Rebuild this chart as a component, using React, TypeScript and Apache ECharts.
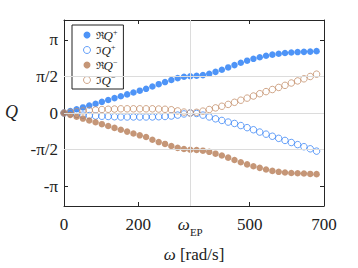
import React, { useEffect, useRef } from "react";
import * as echarts from "echarts";

const omega = [0, 17, 34, 51, 68, 85, 102, 119, 136, 153, 170, 187, 204, 221, 238, 255, 272, 289, 306, 323, 340, 357, 374, 391, 408, 425, 442, 459, 476, 493, 510, 527, 544, 561, 578, 595, 612, 629, 646, 663, 680];

const reQplus = [0, 0.08, 0.16, 0.24, 0.32, 0.4, 0.48, 0.56, 0.64, 0.72, 0.8, 0.88, 0.96, 1.04, 1.14, 1.24, 1.33, 1.42, 1.5, 1.56, 1.58, 1.6, 1.63, 1.69, 1.77, 1.86, 1.96, 2.06, 2.16, 2.25, 2.33, 2.4, 2.46, 2.51, 2.55, 2.58, 2.6, 2.62, 2.63, 2.64, 2.66];
const imQplus = [0, -0.03, -0.06, -0.09, -0.11, -0.13, -0.14, -0.15, -0.16, -0.17, -0.17, -0.17, -0.17, -0.17, -0.17, -0.16, -0.15, -0.13, -0.09, -0.04, 0, -0.02, -0.09, -0.17, -0.25, -0.32, -0.39, -0.45, -0.54, -0.63, -0.72, -0.82, -0.91, -1.0, -1.09, -1.18, -1.27, -1.36, -1.45, -1.54, -1.64];
const reQminus = [0, -0.08, -0.16, -0.24, -0.32, -0.4, -0.48, -0.56, -0.64, -0.72, -0.8, -0.88, -0.96, -1.03, -1.15, -1.25, -1.33, -1.42, -1.5, -1.55, -1.58, -1.59, -1.62, -1.67, -1.75, -1.83, -1.92, -2.02, -2.12, -2.21, -2.29, -2.36, -2.43, -2.49, -2.53, -2.56, -2.58, -2.59, -2.6, -2.62, -2.63];
const imQminus = [0, 0.03, 0.06, 0.09, 0.11, 0.13, 0.15, 0.16, 0.17, 0.18, 0.18, 0.18, 0.18, 0.18, 0.18, 0.17, 0.16, 0.14, 0.09, 0.04, 0, 0.03, 0.08, 0.15, 0.22, 0.29, 0.37, 0.46, 0.55, 0.64, 0.73, 0.83, 0.92, 1.01, 1.1, 1.19, 1.29, 1.38, 1.47, 1.57, 1.67];

const xTicks = [0, 200, 340, 500, 700];
const xTickLabels = ["0", "200", "{w|ω}{s|EP}", "500", "700"];
const yTicks = [-Math.PI, -Math.PI / 2, 0, Math.PI / 2, Math.PI];
const yTickLabels = ["-π", "-π/2", "0", "π/2", "π"];
const gridX = [340];
const gridY = [-Math.PI / 2, 0, Math.PI / 2];

const seriesNames = ["ReQp", "ImQp", "ReQm", "ImQm"];
const legendParts: Record<string, [string, string]> = {
  ReQp: ["ℜ", "+"],
  ImQp: ["ℑ", "+"],
  ReQm: ["ℜ", "−"],
  ImQm: ["ℑ", "−"],
};

const BLUE = "#2279f5";
const BLUE_H = "#3d87f6";
const BROWN = "#b77c55";
const BROWN_H = "#c4906b";
const SERIF = "Times New Roman, Liberation Serif, serif";
const AXIS = "#262626";

export default function App() {
  const ref = useRef<HTMLDivElement>(null);
  useEffect(() => {
    if (!ref.current) return;
    const chart = echarts.init(ref.current, null, { renderer: "svg" });
    const pts = (ys: number[]) => omega.map((x, i) => [x, ys[i]]);
    const findIdx = (arr: number[], v: number) => arr.findIndex((t) => Math.abs(t - v) < 1e-6);
    const scatterBase = { type: "scatter", symbol: "circle", symbolSize: 6.5, z: 3 };
    chart.setOption({
      animation: false,
      textStyle: { fontFamily: SERIF },
      grid: { left: 64, top: 20, right: 34, bottom: 61 },
      legend: {
        orient: "vertical",
        left: 72,
        top: 25,
        padding: [3, 6, 2, 11],
        itemWidth: 7,
        itemHeight: 7,
        itemGap: 1,
        itemTextGap: 11,
        borderColor: "#222",
        borderWidth: 1,
        backgroundColor: "#fff",
        data: [
          { name: "ReQp", icon: "circle", itemStyle: { color: BLUE } },
          { name: "ImQp", icon: "circle", itemStyle: { color: "rgba(255,255,255,0)", borderColor: BLUE_H, borderWidth: 1 } },
          { name: "ReQm", icon: "circle", itemStyle: { color: BROWN } },
          { name: "ImQm", icon: "circle", itemStyle: { color: "rgba(255,255,255,0)", borderColor: BROWN_H, borderWidth: 1 } },
        ],
        formatter: (n: string) => {
          const p = legendParts[n];
          return `{r|${p[0]}}{q|Q}{s|${p[1]}}`;
        },
        textStyle: {
          lineHeight: 14,
          color: "#222",
          fontFamily: SERIF,
          rich: {
            r: { fontFamily: "DejaVu Serif", fontSize: 10, lineHeight: 14, color: "#222" },
            q: { fontFamily: SERIF, fontStyle: "italic", fontSize: 13, lineHeight: 14, color: "#222" },
            s: { fontFamily: SERIF, fontSize: 8, lineHeight: 14, verticalAlign: "top", color: "#222" },
          },
        },
      },
      xAxis: [
        {
          type: "value",
          min: 0,
          max: 700,
          position: "bottom",
          name: "{i|ω} {n|[rad/s]}",
          nameLocation: "middle",
          nameGap: 40,
          nameTextStyle: {
            fontFamily: SERIF,
            fontSize: 17,
            color: "#222",
            rich: {
              i: { fontFamily: SERIF, fontStyle: "italic", fontSize: 17, color: "#222" },
              n: { fontFamily: SERIF, fontSize: 17, color: "#222" },
            },
          },
          axisLine: { show: true, onZero: false, lineStyle: { color: AXIS, width: 1 } },
          axisTick: { show: true, inside: true, length: 4, customValues: xTicks, lineStyle: { color: AXIS } },
          axisLabel: {
            customValues: xTicks,
            margin: 10,
            fontFamily: SERIF,
            fontSize: 17,
            color: "#222",
            formatter: (v: number) => {
              const i = findIdx(xTicks, v);
              return i >= 0 ? xTickLabels[i] : "";
            },
            rich: {
              w: { fontFamily: SERIF, fontStyle: "italic", fontSize: 17, lineHeight: 18, verticalAlign: "top", color: "#222" },
              s: { fontFamily: SERIF, fontSize: 11, lineHeight: 21, verticalAlign: "bottom", color: "#222" },
            },
          },
          splitLine: { show: false },
        },
        {
          type: "value",
          min: 0,
          max: 700,
          position: "top",
          axisLine: { show: true, onZero: false, lineStyle: { color: AXIS, width: 1 } },
          axisTick: { show: true, inside: true, length: 4, customValues: xTicks, lineStyle: { color: AXIS } },
          axisLabel: { show: false },
          splitLine: { show: false },
        },
      ],
      yAxis: [
        {
          type: "value",
          min: -4,
          max: 4,
          position: "left",
          axisLine: { show: true, onZero: false, lineStyle: { color: AXIS, width: 1 } },
          axisTick: { show: true, inside: true, length: 4, customValues: yTicks, lineStyle: { color: AXIS } },
          axisLabel: {
            customValues: yTicks,
            margin: 6,
            fontFamily: SERIF,
            fontSize: 17,
            color: "#222",
            formatter: (v: number) => {
              const i = findIdx(yTicks, v);
              return i >= 0 ? yTickLabels[i] : "";
            },
          },
          splitLine: { show: false },
        },
        {
          type: "value",
          min: -4,
          max: 4,
          position: "right",
          axisLine: { show: true, onZero: false, lineStyle: { color: AXIS, width: 1 } },
          axisTick: { show: true, inside: true, length: 4, customValues: yTicks, lineStyle: { color: AXIS } },
          axisLabel: { show: false },
          splitLine: { show: false },
        },
      ],
      graphic: [
        {
          type: "text",
          left: 5,
          top: 103,
          style: { text: "Q", fontFamily: SERIF, fontStyle: "italic", fontSize: 18, fill: "#222" },
        },
      ],
      series: [
        {
          name: "grid",
          type: "line",
          data: [[0, 0]],
          showSymbol: false,
          lineStyle: { width: 0 },
          z: 1,
          silent: true,
          markLine: {
            silent: true,
            symbol: "none",
            label: { show: false },
            lineStyle: { color: "#dcdcdc", width: 1, type: "solid" },
            data: [...gridX.map((x) => ({ xAxis: x })), ...gridY.map((y) => ({ yAxis: y }))],
          },
        },
        { ...scatterBase, name: seriesNames[0], data: pts(reQplus), itemStyle: { color: BLUE } },
        { ...scatterBase, name: seriesNames[1], data: pts(imQplus), itemStyle: { color: "rgba(255,255,255,0)", borderColor: BLUE_H, borderWidth: 1 } },
        { ...scatterBase, name: seriesNames[2], data: pts(reQminus), itemStyle: { color: BROWN } },
        { ...scatterBase, name: seriesNames[3], data: pts(imQminus), itemStyle: { color: "rgba(255,255,255,0)", borderColor: BROWN_H, borderWidth: 1 } },
      ],
    });
    return () => chart.dispose();
  }, []);
  return <div ref={ref} style={{ width: 358, height: 268, position: "absolute", left: 0, top: 0 }} />;
}
